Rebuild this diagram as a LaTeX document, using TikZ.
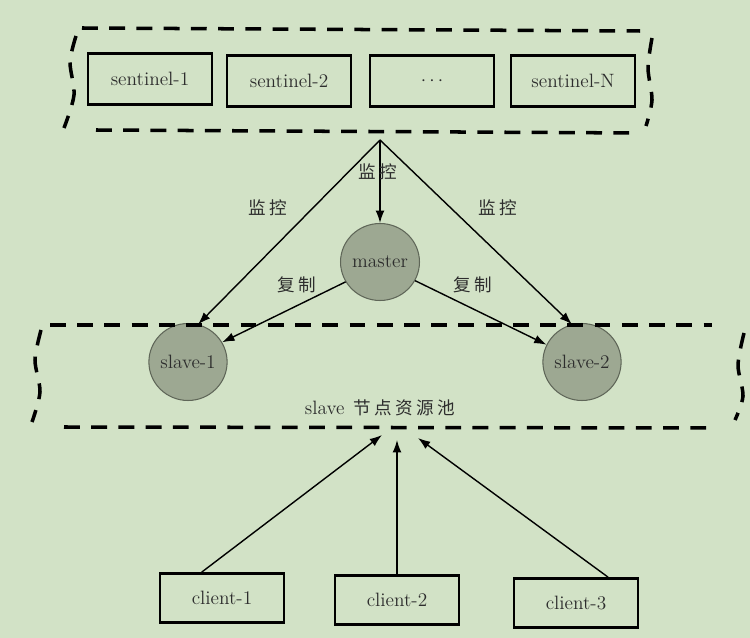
\documentclass[tikz,border=0pt]{standalone}
\usepackage{fontspec}
\newfontfamily\cjk{Noto Sans CJK SC}
\usetikzlibrary{shapes.geometric,arrows.meta}
\definecolor{bggreen}{RGB}{210,226,198}
\definecolor{nodegray}{RGB}{157,168,146}
\definecolor{nodeedge}{RGB}{95,102,88}
\definecolor{textgray}{RGB}{45,45,45}

\begin{document}
\begin{tikzpicture}[x=0.02cm,y=-0.02cm,
  box/.style={draw,line width=1.6pt,minimum width=2.48cm,minimum height=1.02cm,text=textgray,font=\fontsize{11}{13}\selectfont},
  redis/.style={ellipse,draw=nodeedge,fill=nodegray,line width=0.6pt,minimum width=1.44cm,minimum height=1.54cm,inner sep=0pt,text=textgray,font=\fontsize{11}{13}\selectfont},
  group/.style={line width=2pt,dash pattern=on 9pt off 6.5pt},
  link/.style={-{Latex[length=7pt,width=5pt]},line width=0.8pt},
  tag/.style={text=textgray,font=\cjk\fontsize{10}{12}\selectfont}]

% draw the space
\fill[bggreen] (0,0) rectangle (750,638);

% the sentinels
\node[box] (s1) at (150,79) {sentinel-1};
\node[box] (s2) at (289,81) {sentinel-2};
\node[box] (sd) at (432,81) {$\cdots$};
\node[box] (sN) at (573,81) {sentinel-N};

% sentinel group
\draw[group] (82,28) -- (640,31);
\draw[group] (96,130) -- (640,133);
\draw[group] plot[smooth] coordinates {(76,36) (70,62) (74,95) (64,128)};
\draw[group] plot[smooth] coordinates {(652,38) (648,68) (652,100) (646,126)};

% master and slaves
\node[redis] (master) at (380,262) {master};
\node[redis] (slave1) at (188,362) {slave-1};
\node[redis] (slave2) at (582,362) {slave-2};

% slave pool
\draw[group] (50,325) -- (712,325);
\draw[group] (64,427) -- (714,428);
\draw[group] plot[smooth] coordinates {(41,330) (35,360) (40,392) (32,422)};
\draw[group] plot[smooth] coordinates {(744,333) (738,365) (743,396) (735,420)};
\node[tag] (pool) at (380,408) {{\rmfamily\fontsize{11}{13}\selectfont slave}\hspace{5pt}节\hspace{2pt}点\hspace{2pt}资\hspace{2pt}源\hspace{2pt}池};

% monitoring
\coordinate (mon) at (380,140);
\draw[link] (mon) -- (slave1.75);
\draw[link] (mon) -- (master);
\draw[link] (mon) -- (slave2.105);
\node[tag] (m1) at (268,208) {监\hspace{2pt}控};
\node[tag] (m2) at (378,172) {监\hspace{2pt}控};
\node[tag] (m3) at (498,208) {监\hspace{2pt}控};

% replication
\draw[link] (master.210) -- (slave1.30);
\draw[link] (master.332) -- (slave2.154);
\node[tag] (r1) at (297,285) {复\hspace{2pt}制};
\node[tag] (r2) at (473,285) {复\hspace{2pt}制};

% the clients
\node[box,minimum height=0.98cm] (c1) at (222,598) {client-1};
\node[box,minimum height=0.98cm] (c2) at (397,600) {client-2};
\node[box,minimum height=0.98cm] (c3) at (576,603) {client-3};

\coordinate (in1) at (382,435);
\coordinate (in2) at (397,440);
\coordinate (in3) at (418,438);
\draw[link] (c1.128) -- (in1);
\draw[link] (c2.north) -- (in2);
\draw[link] (c3.39) -- (in3);

\end{tikzpicture}
\end{document}
